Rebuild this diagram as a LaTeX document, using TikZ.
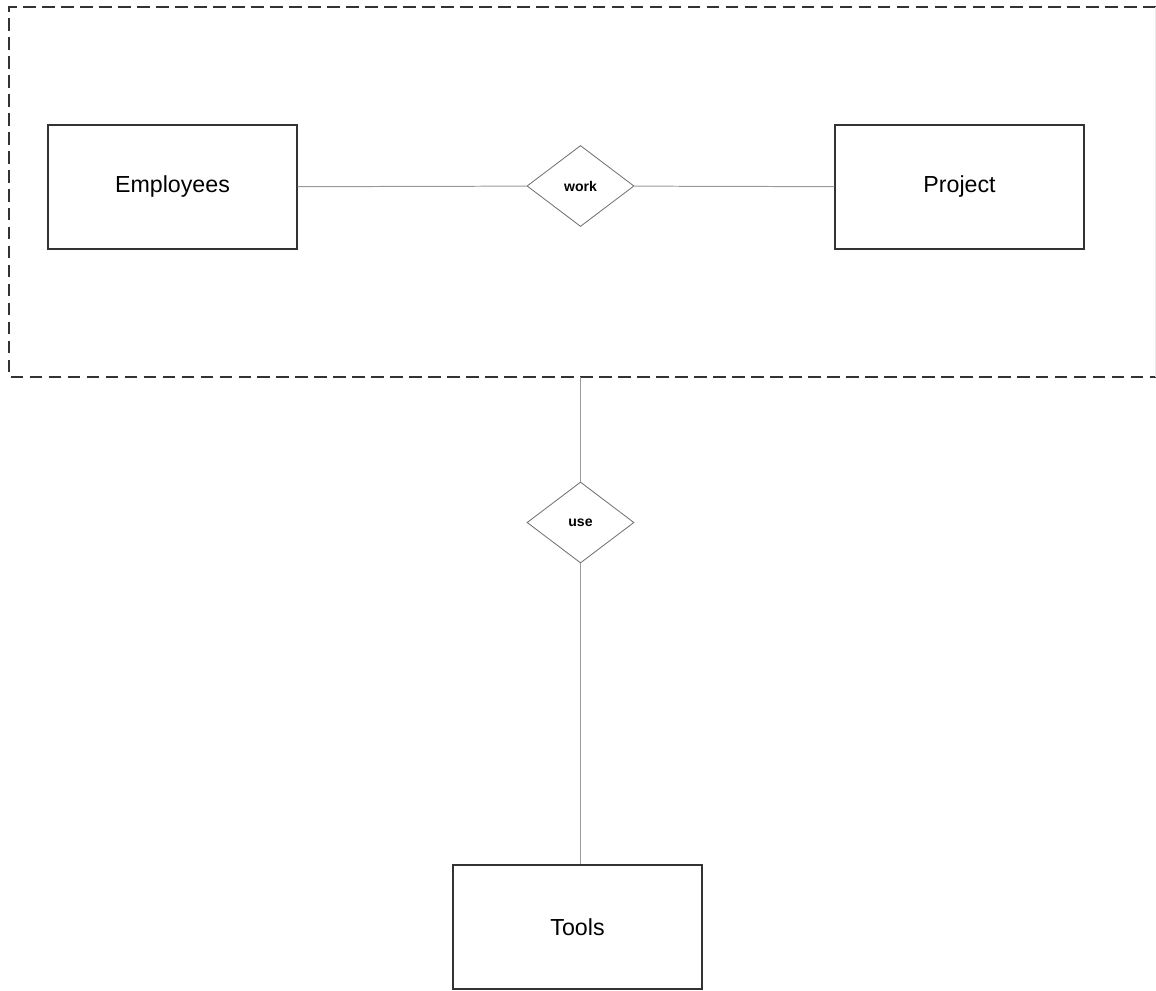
\documentclass[tikz,border=0pt]{standalone}
\usepackage{fontspec}
\setmainfont{Liberation Sans}
\usetikzlibrary{shapes.geometric,positioning}

\tikzset{
    entity/.style={draw=black!80, line width=1pt, fill=white, minimum width=6.225cm, minimum height=3.1cm, font=\fontsize{16.5}{20}\selectfont},
    relation/.style={diamond, draw=black!55, line width=0.6pt, fill=white, inner sep=0pt, minimum width=2.675cm, minimum height=2.025cm, font=\fontsize{10}{12}\selectfont\bfseries},
    link/.style={draw=black!40, line width=0.7pt}
}

\begin{document}
\begin{tikzpicture}[x=0.025cm, y=-0.025cm]
        \useasboundingbox (0,0) rectangle (1156,991);

        % Aggregation box (open on the right side)
        \draw[black!80, line width=1.2pt, dash pattern=on 9pt off 4.5pt] (1156,7) -- (9,7) -- (9,377) -- (1156,377);
        \draw[black!8, line width=0.5pt] (1155,7) -- (1155,377);
        \coordinate (aggbottom) at (580.5,377);

        % Entities
        \node[entity] (emp) at (172.5,187) {Employees};
        \node[entity] (proj) at (959.5,187) {Project};
        \node[entity] (tools) at (577.5,927) {Tools};

        % Relationships
        \node[relation] (work) at (580.5,186) {work};
        \node[relation] (use) at (580.5,522.5) {use};

        % Connectors
        \draw[link] (emp) -- (work);
        \draw[link] (work) -- (proj);
        \draw[link] (aggbottom) -- (use);
        \draw[link] (use) -- (use |- tools.north);

 \end{tikzpicture}
\end{document}
